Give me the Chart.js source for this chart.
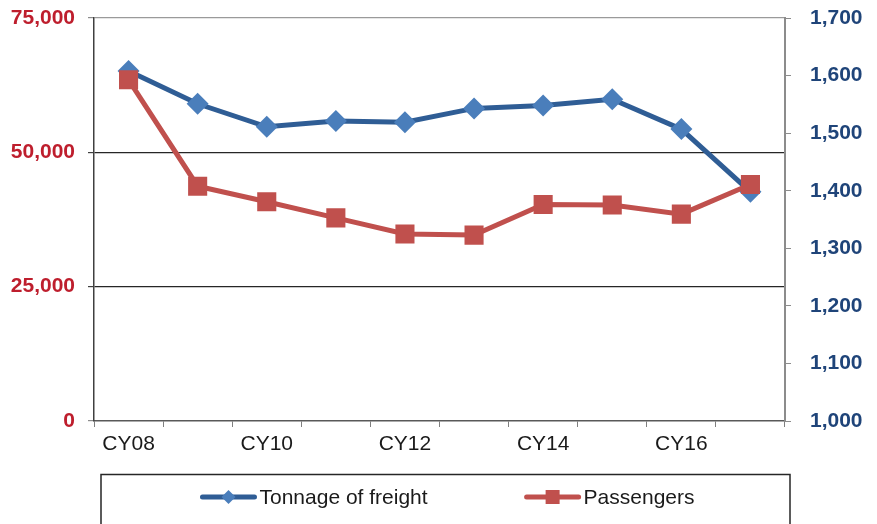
<!DOCTYPE html>
<html>
<head>
<meta charset="utf-8">
<script src="https://cdn.jsdelivr.net/npm/chart.js@4/dist/chart.umd.min.js"></script>
<style>
  html, body { margin: 0; padding: 0; background: #fff; }
  #wrap { width: 877px; height: 524px; }
</style>
</head>
<body>
<div id="wrap"><canvas id="myChart"></canvas></div>
<script>
// Data
const years = ['CY08', 'CY09', 'CY10', 'CY11', 'CY12', 'CY13', 'CY14', 'CY15', 'CY16', 'CY17'];
const freightTonnage = [1608, 1551, 1511, 1521, 1519, 1543, 1548, 1559, 1507, 1398];
const passengers = [63500, 43700, 40800, 37800, 34800, 34600, 40300, 40200, 38500, 44000];
const passengerTicks = [0, 25000, 50000, 75000];
const tonnageTicks = [1000, 1100, 1200, 1300, 1400, 1500, 1600, 1700];

const fontFamily = '"Liberation Sans", Arial, sans-serif';
const fmt = v => v.toLocaleString('en-US');

// Legend drawn in a box under the axis, line + marker samples
const boxedLegend = {
    id: 'boxedLegend',
    afterDraw(chart) {
        const ctx = chart.ctx;
        const area = chart.chartArea;
        ctx.save();
        ctx.strokeStyle = '#262626';
        ctx.lineWidth = 1.5;
        ctx.strokeRect(area.left + 7, 474.5, area.right - area.left - 2, 80);

        ctx.font = '21px ' + fontFamily;
        ctx.textBaseline = 'middle';
        const sample = 56, textGap = 3, itemGap = 97;
        const items = chart.data.datasets;
        let total = 0;
        items.forEach((ds, i) => {
            total += sample + textGap + ctx.measureText(ds.label).width;
            if (i > 0) total += itemGap;
        });
        let x = (area.left + 7 + area.right + 5) / 2 - total / 2 + 2;
        const y = 497;
        items.forEach(ds => {
            ctx.strokeStyle = ds.borderColor;
            ctx.lineWidth = 5;
            ctx.lineCap = 'round';
            ctx.beginPath();
            ctx.moveTo(x + 2, y);
            ctx.lineTo(x + sample - 2, y);
            ctx.stroke();
            const cx = x + sample / 2;
            ctx.fillStyle = ds.pointBackgroundColor;
            ctx.beginPath();
            if (ds.pointStyle === 'rectRot') {
                ctx.moveTo(cx - 7, y);
                ctx.lineTo(cx, y - 7);
                ctx.lineTo(cx + 7, y);
                ctx.lineTo(cx, y + 7);
                ctx.closePath();
            } else {
                ctx.rect(cx - 7, y - 7, 14, 14);
            }
            ctx.fill();
            ctx.fillStyle = '#1a1a1a';
            ctx.fillText(ds.label, x + sample + textGap, y + 1);
            x += sample + textGap + ctx.measureText(ds.label).width + itemGap;
        });
        ctx.restore();
    }
};

// fixed axis sizes so the plot area sits where the reference has it
function fixVertical(width) {
    return scale => {
        scale.width = width;
        scale.paddingTop = 0;
        scale.paddingBottom = 0;
    };
}

const ctx = document.getElementById('myChart').getContext('2d');
const myChart = new Chart(ctx, {
    type: 'line',
    data: {
        labels: years,
        datasets: [{
            label: 'Tonnage of freight',
            data: freightTonnage,
            yAxisID: 'yRight',
            borderColor: '#2F5D95',
            borderWidth: 5,
            pointStyle: 'rectRot',
            pointRadius: 11,
            pointHoverRadius: 11,
            pointBackgroundColor: '#4A7EBB',
            pointBorderColor: '#4A7EBB',
            pointBorderWidth: 0,
            tension: 0,
            order: 1
        }, {
            label: 'Passengers',
            data: passengers,
            yAxisID: 'yLeft',
            borderColor: '#C0504D',
            borderWidth: 5,
            pointStyle: 'rect',
            pointRadius: 13.5,
            pointHoverRadius: 13.5,
            pointBackgroundColor: '#C0504D',
            pointBorderColor: '#C0504D',
            pointBorderWidth: 0,
            tension: 0,
            order: 0
        }]
    },
    options: {
        responsive: true,
        maintainAspectRatio: false,
        animation: false,
        layout: {
            padding: { top: 18, bottom: 53, left: 0, right: 0 }
        },
        plugins: {
            legend: { display: false },
            tooltip: { enabled: false }
        },
        scales: {
            x: {
                offset: true,
                grid: {
                    offset: true,
                    drawOnChartArea: false,
                    tickLength: 6,
                    color: '#7f7f7f'
                },
                border: { color: '#595959', width: 1.5 },
                ticks: {
                    autoSkip: false,
                    maxRotation: 0,
                    padding: 5,
                    color: '#1a1a1a',
                    font: { family: fontFamily, size: 21 },
                    callback: function (value, index) {
                        return index % 2 === 0 ? this.getLabelForValue(value) : '';
                    }
                },
                afterFit: scale => {
                    scale.height = 50;
                    scale.paddingLeft = 0;
                    scale.paddingRight = 0;
                }
            },
            yLeft: {
                position: 'left',
                min: passengerTicks[0],
                max: passengerTicks[passengerTicks.length - 1],
                afterBuildTicks: scale => {
                    scale.ticks = passengerTicks.map(v => ({ value: v }));
                },
                grid: {
                    tickLength: 6,
                    color: c => {
                        const v = c.tick.value;
                        if (v === 75000) return '#9a9a9a';
                        if (v === 0) return 'rgba(0,0,0,0)';
                        return '#262626';
                    },
                    tickColor: c => (c.tick.value === 0 || c.tick.value === 75000) ? '#8c8c8c' : '#404040',
                    lineWidth: 1.2
                },
                border: { color: '#404040', width: 1.5 },
                ticks: {
                    padding: 13,
                    color: '#BE1E2D',
                    font: { family: fontFamily, size: 21, weight: 'bold' },
                    callback: v => fmt(v)
                },
                afterFit: fixVertical(94)
            },
            yRight: {
                position: 'right',
                min: tonnageTicks[0],
                max: tonnageTicks[tonnageTicks.length - 1],
                afterBuildTicks: scale => {
                    scale.ticks = tonnageTicks.map(v => ({ value: v }));
                },
                grid: {
                    drawOnChartArea: false,
                    tickLength: 6,
                    color: '#8c8c8c'
                },
                border: { color: '#8c8c8c', width: 2 },
                ticks: {
                    padding: 19,
                    color: '#1F4479',
                    font: { family: fontFamily, size: 21, weight: 'bold' },
                    callback: v => fmt(v)
                },
                afterFit: fixVertical(92)
            }
        }
    },
    plugins: [boxedLegend]
});
</script>
</body>
</html>
